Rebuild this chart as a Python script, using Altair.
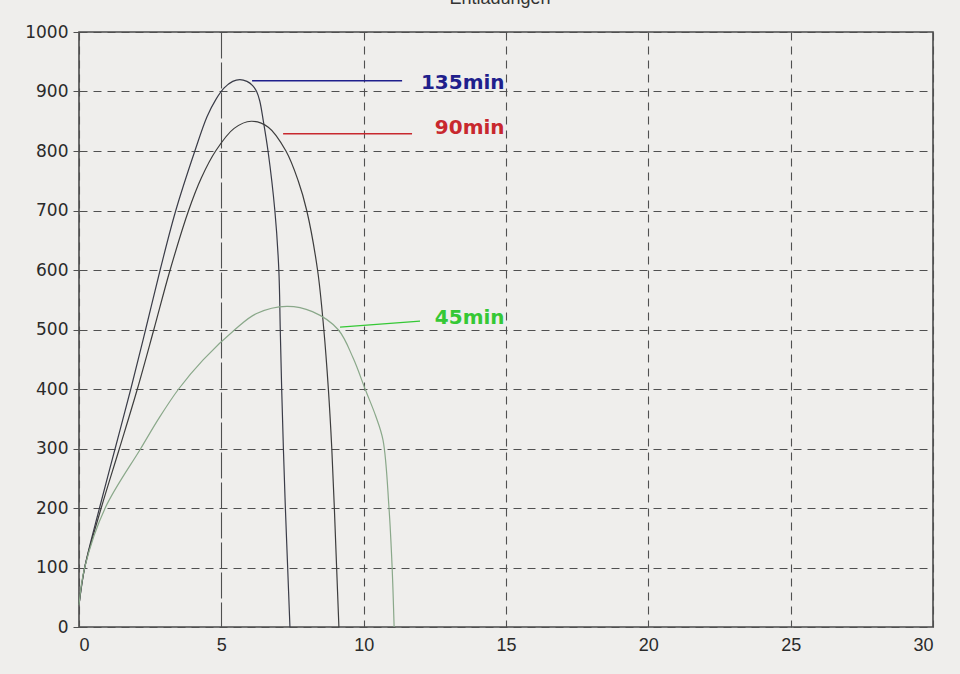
import altair as alt
import pandas as pd

# Measured curves (time, value) for the three holding times
x_135 = [0, 0.2, 0.72, 1.27, 1.82, 2.34, 2.85, 3.4, 4.07, 4.5, 4.8, 5.1, 5.4, 5.65, 5.9, 6.1, 6.24, 6.35, 6.47, 6.64, 6.88, 7.02, 7.07, 7.12, 7.18, 7.25, 7.33, 7.41]
y_135 = [37, 100, 200, 300, 400, 500, 600, 700, 800, 858, 886, 906, 917, 920, 917, 910, 900, 884, 852, 800, 700, 600, 500, 400, 300, 200, 100, 0]

x_90 = [0, 0.2, 0.78, 1.42, 2.05, 2.63, 3.2, 3.85, 4.3, 4.8, 5.45, 6.05, 6.65, 7.27, 7.7, 8.0, 8.38, 8.6, 8.76, 8.88, 8.97, 9.05, 9.13]
y_90 = [37, 100, 200, 300, 400, 500, 600, 700, 755, 800, 838, 850, 840, 800, 750, 700, 600, 500, 400, 300, 200, 100, 0]

x_45 = [0, 0.2, 0.92, 2.17, 2.81, 3.5, 4.36, 5.48, 6.24, 7.3, 8.2, 9.1, 9.63, 10.05, 10.42, 10.68, 10.89, 11.0, 11.07]
y_45 = [37, 100, 200, 300, 351, 400, 449, 500, 527, 539, 530, 500, 452, 400, 355, 314, 200, 100, 0]

# Label leader lines and captions
label_names = ["135min", "90min", "45min"]
label_colors = ["#1f1f8c", "#c8282e", "#35c835"]
leader_x1 = [6.08, 7.17, 9.17]
leader_x2 = [11.35, 11.7, 11.98]
leader_y1 = [918, 829, 504]
leader_y2 = [918, 829, 514]
caption_x = [14.95, 14.95, 14.95]
caption_y = [914, 838, 519]

x_ticks = [0, 5, 10, 15, 20, 25, 30]
y_ticks = list(range(0, 1001, 100))

rows = []
for name, xs, ys in [("135min", x_135, y_135), ("90min", x_90, y_90), ("45min", x_45, y_45)]:
    for i, (xv, yv) in enumerate(zip(xs, ys)):
        rows.append({"series": name, "order": i, "t": xv, "v": yv})
curves = pd.DataFrame(rows)

labels = pd.DataFrame({
    "series": label_names, "color": label_colors,
    "x1": leader_x1, "x2": leader_x2, "y1": leader_y1, "y2": leader_y2,
    "cx": caption_x, "cy": caption_y,
})

xscale = alt.Scale(domain=[0, 30], nice=False)
yscale = alt.Scale(domain=[0, 1000], nice=False)

x_axis = alt.Axis(
    values=x_ticks, title=None, ticks=False, domain=False, labelPadding=9, format="d",
    labelFont="Liberation Sans", labelFontSize=18, labelColor="#2a2a2a",
    grid=True, gridColor="#505050", gridWidth=1.1,
    gridDash={"condition": {"test": "datum.value === 5", "value": [26, 4]}, "value": [8, 6]},
)
y_axis = alt.Axis(
    values=y_ticks, title=None, domain=False, tickSize=6, tickColor="#505050", format="d",
    labelPadding=5, labelFont="DejaVu Sans", labelFontSize=17, labelColor="#2a2a2a",
    grid=True, gridColor="#505050", gridWidth=1.1, gridDash=[8, 6],
)

lines = alt.Chart(curves).mark_line(strokeWidth=1.2, interpolate="catmull-rom").encode(
    x=alt.X("t:Q", scale=xscale, axis=x_axis),
    y=alt.Y("v:Q", scale=yscale, axis=y_axis),
    detail="series:N",
    order="order:Q",
    color=alt.Color("series:N", legend=None,
                    scale=alt.Scale(domain=["135min", "90min", "45min"],
                                    range=["#3a3c48", "#3d3d3d", "#8aa88a"])),
)

leaders = alt.Chart(labels).mark_rule(strokeWidth=1.4).encode(
    x=alt.X("x1:Q", scale=xscale), x2="x2:Q",
    y=alt.Y("y1:Q", scale=yscale), y2="y2:Q",
    color=alt.Color("color:N", scale=None),
)

captions = alt.Chart(labels).mark_text(
    align="right", baseline="middle", font="DejaVu Sans", fontWeight="bold", fontSize=20,
).encode(
    x=alt.X("cx:Q", scale=xscale), y=alt.Y("cy:Q", scale=yscale),
    text="series:N", color=alt.Color("color:N", scale=None),
)

# Heading sits above the frame, mostly outside the page
heading = alt.Chart(pd.DataFrame({"h": ["Entladungen"]})).mark_text(
    align="center", baseline="alphabetic", font="Liberation Sans", fontSize=18, color="#333333",
).encode(x=alt.value(421), y=alt.value(-28), text="h:N")

chart = alt.layer(lines, leaders, captions, heading).properties(
    width=854, height=595,
    background="#efeeec",
    padding={"left": 79, "top": 32, "right": 27, "bottom": 47},
    autosize=alt.AutoSizeParams(type="none"),
).configure_view(
    stroke="#4a4a4a", strokeWidth=1.6, fill="#efeeec",
)

chart.save("out.html", embed_options={"renderer": "svg", "actions": False})
